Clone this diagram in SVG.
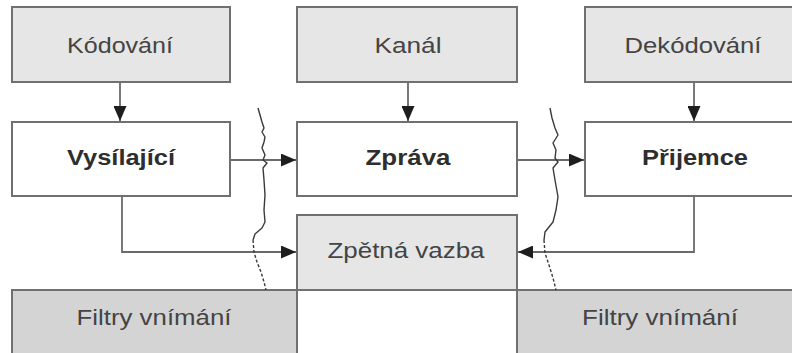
<svg xmlns="http://www.w3.org/2000/svg" width="792" height="353" viewBox="0 0 792 353">
<style>
.box{stroke:#707070;stroke-width:2}
.light{fill:#e6e6e7}
.white{fill:#ffffff}
.dark{fill:#d4d4d5}
.t{font-family:"Liberation Sans",Arial,sans-serif;font-size:22px;text-anchor:middle;fill:#444444}
.b{font-weight:bold;fill:#2e2e2e}
.c{fill:none;stroke:#6a6a6a;stroke-width:1.8}
.sq{fill:none;stroke:#3a3a3a;stroke-width:1.4;stroke-linejoin:round}
.dash{stroke-dasharray:3 2}
</style>
<defs>
<marker id="ah" markerUnits="userSpaceOnUse" markerWidth="15" markerHeight="13" refX="15" refY="6.5" orient="auto">
<path d="M0,0 L15,6.5 L0,13 z" fill="#1e1e1e"/>
</marker>
</defs>
<rect width="792" height="353" fill="#ffffff"/>
<g id="kodovani"><rect class="box light" x="12" y="7" width="218" height="75"/><text class="t" x="120" y="53" textLength="106" lengthAdjust="spacingAndGlyphs">Kódování</text></g>
<g id="kanal"><rect class="box light" x="297" y="7" width="220" height="75"/><text class="t" x="408" y="53" textLength="67" lengthAdjust="spacingAndGlyphs">Kanál</text></g>
<g id="dekodovani"><rect class="box light" x="585" y="7" width="218" height="75"/><text class="t" x="693" y="53" textLength="137" lengthAdjust="spacingAndGlyphs">Dekódování</text></g>
<g id="vysilajici"><rect class="box white" x="12" y="122" width="218" height="74"/><text class="t b" x="121" y="165" textLength="108" lengthAdjust="spacingAndGlyphs">Vysílající</text></g>
<g id="zprava"><rect class="box white" x="297" y="122" width="220" height="74"/><text class="t b" x="408" y="165" textLength="85" lengthAdjust="spacingAndGlyphs">Zpráva</text></g>
<g id="prijemce"><rect class="box white" x="585" y="122" width="218" height="74"/><text class="t b" x="695" y="165" textLength="106" lengthAdjust="spacingAndGlyphs">Přijemce</text></g>
<g id="zpetna-vazba"><rect class="box light" x="297" y="215" width="220" height="75"/><text class="t" x="406" y="258" textLength="157" lengthAdjust="spacingAndGlyphs">Zpětná vazba</text></g>
<g id="filtry-left"><rect class="box dark" x="12" y="290" width="285" height="70"/><text class="t" x="154" y="325" textLength="155" lengthAdjust="spacingAndGlyphs">Filtry vnímání</text></g>
<g id="filtry-right"><rect class="box dark" x="517" y="290" width="290" height="70"/><text class="t" x="660" y="325" textLength="156" lengthAdjust="spacingAndGlyphs">Filtry vnímání</text></g>
<g id="connectors">
<path class="c" d="M120,83 L120,121" marker-end="url(#ah)"/>
<path class="c" d="M408,83 L408,121" marker-end="url(#ah)"/>
<path class="c" d="M694,83 L694,121" marker-end="url(#ah)"/>
<path class="c" d="M231,160 L296,160" marker-end="url(#ah)"/>
<path class="c" d="M518,160 L584,160" marker-end="url(#ah)"/>
<path class="c" d="M122,197 L122,252 L296,252" marker-end="url(#ah)"/>
<path class="c" d="M694,197 L694,252 L518,252" marker-end="url(#ah)"/>
</g>
<g id="barriers">
<path class="sq" d="M258,108 L260,115 L262,122 L264,128 L262,132 L265,137 L264,142 L262,148 L265,155 L263,160 L267,163 L263,168 L264,180 L265,195 L264,210 L265,222 L262,228 L255,234 L253,240"/>
<path class="sq dash" d="M253,240 L254,252 L257,262 L261,272 L264,282 L266,290"/>
<path class="sq" d="M550,108 L552,118 L555,128 L558,135 L553,143 L556,150 L555,158 L558,162 L553,168 L555,180 L558,197 L556,210 L553,222 L545,232 L544,240"/>
<path class="sq dash" d="M544,240 L545,253 L549,265 L553,278 L556,290"/>
</g>
</svg>
